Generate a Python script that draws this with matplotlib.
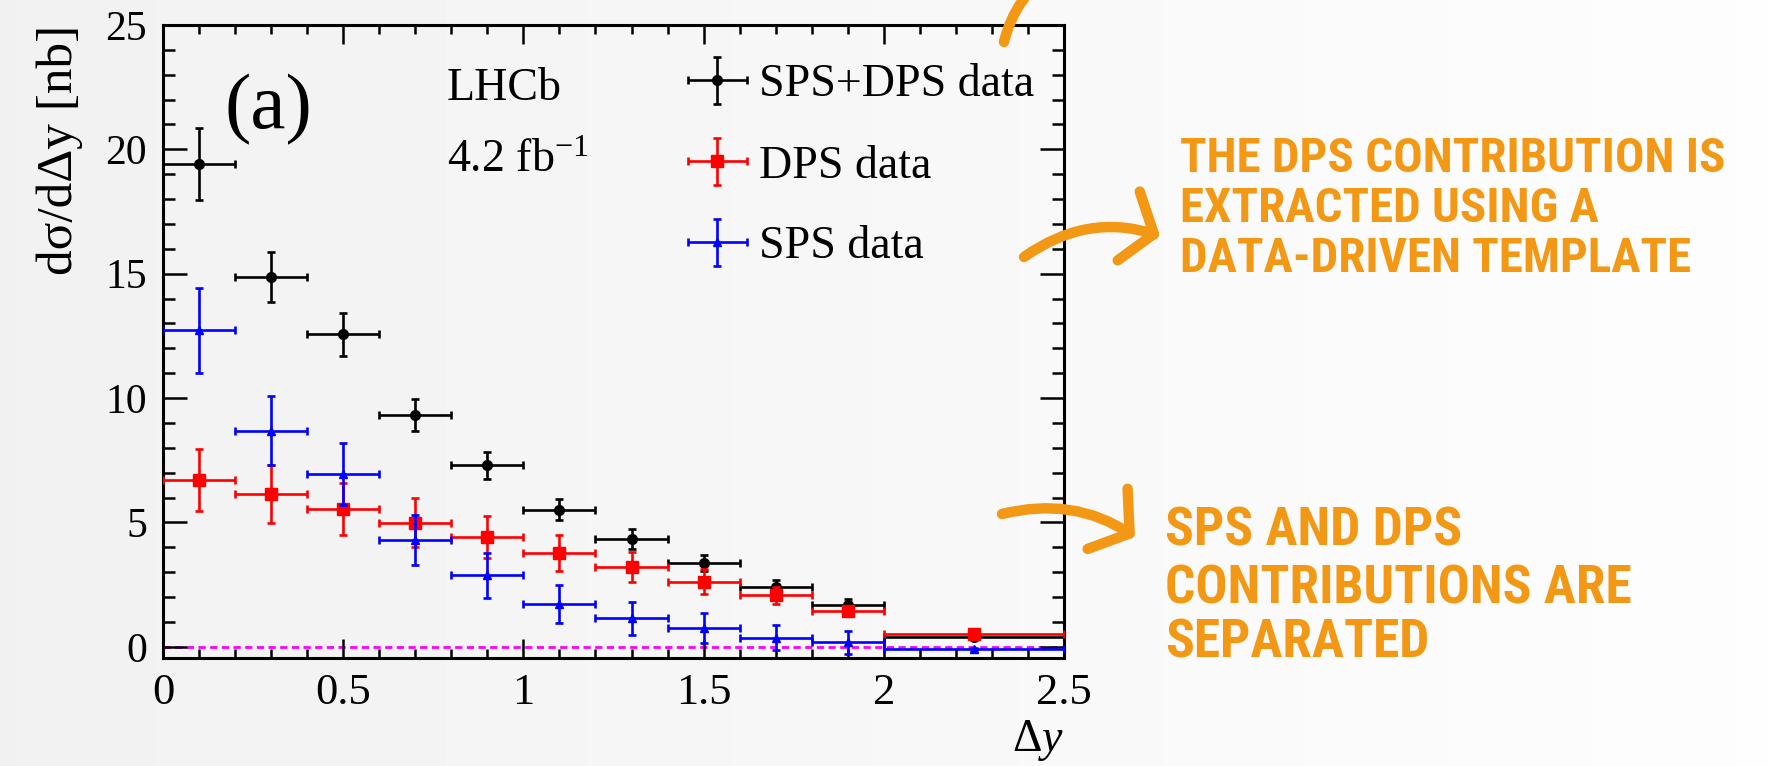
import matplotlib
matplotlib.use("Agg")
import matplotlib.pyplot as plt
import numpy as np
from matplotlib.patches import FancyArrowPatch, ArrowStyle
from matplotlib.legend_handler import HandlerErrorbar
from matplotlib.container import ErrorbarContainer
from matplotlib.ticker import MultipleLocator

# canvas in pixels
W, H = 1768, 766
DPI = 100

# bins in delta-y (centre and half width)
dy_centres = [0.1, 0.3, 0.5, 0.7, 0.9, 1.1, 1.3, 1.5, 1.7, 1.9, 2.25]
dy_halfwidth = [0.1, 0.1, 0.1, 0.1, 0.1, 0.1, 0.1, 0.1, 0.1, 0.1, 0.25]

# dsigma/d(delta y) in nb
sps_dps = [19.4, 14.87, 12.56, 9.32, 7.29, 5.51, 4.34, 3.37, 2.41, 1.67, 0.40]
sps_dps_err = [1.45, 1.0, 0.87, 0.63, 0.53, 0.43, 0.40, 0.33, 0.29, 0.27, 0.08]
dps = [6.71, 6.15, 5.55, 4.99, 4.41, 3.77, 3.21, 2.61, 2.07, 1.44, 0.52]
dps_err = [1.25, 1.16, 1.04, 0.98, 0.84, 0.73, 0.60, 0.50, 0.35, 0.20, 0.10]
sps = [12.72, 8.69, 6.95, 4.30, 2.87, 1.71, 1.14, 0.74, 0.36, 0.18, -0.10]
sps_err = [1.72, 1.38, 1.24, 1.0, 0.90, 0.76, 0.68, 0.60, 0.50, 0.45, 0.05]

series_labels = ["SPS+DPS data", "DPS data", "SPS data"]

x_ticks = [0, 0.5, 1, 1.5, 2, 2.5]
x_tick_labels = ["0", "0.5", "1", "1.5", "2", "2.5"]
y_ticks = [0, 5, 10, 15, 20, 25]
y_tick_labels = ["0", "5", "10", "15", "20", "25"]

note_top = ["THE DPS CONTRIBUTION IS", "EXTRACTED USING A", "DATA-DRIVEN TEMPLATE"]
note_bottom = ["SPS AND DPS", "CONTRIBUTIONS ARE", "SEPARATED"]

plt.rcParams["font.family"] = ["Liberation Serif", "DejaVu Serif"]
plt.rcParams["mathtext.fontset"] = "custom"
plt.rcParams["mathtext.rm"] = "Liberation Serif"
plt.rcParams["mathtext.it"] = "Liberation Serif:italic"
plt.rcParams["mathtext.bf"] = "Liberation Serif:bold"

note_color = "#f39814"
note_font = ["Roboto Condensed", "Roboto", "DejaVu Sans"]


def px(x, y):
    """pixel position (from top left) -> figure fraction"""
    return x / W, 1 - y / H


fig = plt.figure(figsize=(W / DPI, H / DPI), dpi=DPI)
fig.patch.set_facecolor("#f5f5f5")

# soft grey to white background
bg = fig.add_axes([0, 0, 1, 1], zorder=-10)
grad = np.tile(np.linspace(0.945, 0.993, 512), (2, 1))
bg.imshow(grad, cmap="gray", vmin=0, vmax=1, aspect="auto", extent=[0, 1, 0, 1])
bg.axis("off")

left, top, right, bottom = 163, 25, 1064, 658
ax = fig.add_axes([left / W, 1 - bottom / H, (right - left) / W, (bottom - top) / H])
ax.set_facecolor("none")

ax.axhline(0, color="#ff00ff", lw=2.0, ls=(0, (2.6, 1.6)), zorder=1)

bar_style = dict(elinewidth=1.9, capsize=3.2, capthick=1.9)
h_tot = ax.errorbar(dy_centres, sps_dps, xerr=dy_halfwidth, yerr=sps_dps_err,
                    fmt="o", color="black", ms=7, zorder=2, **bar_style)
h_dps = ax.errorbar(dy_centres, dps, xerr=dy_halfwidth, yerr=dps_err,
                    fmt="s", color="#ff0000", ms=8, zorder=3, **bar_style)
h_sps = ax.errorbar(dy_centres, sps, xerr=dy_halfwidth, yerr=sps_err,
                    fmt="^", color="#0000ff", ms=6, zorder=4, **bar_style)

ax.set_xlim(0, 2.5)
ax.set_ylim(-0.45, 25)
ax.set_xticks(x_ticks, x_tick_labels)
ax.set_yticks(y_ticks, y_tick_labels)
ax.xaxis.set_minor_locator(MultipleLocator(0.1))
ax.yaxis.set_minor_locator(MultipleLocator(1))
ax.tick_params(which="both", direction="in", top=True, right=True, width=1.8)
ax.tick_params(axis="x", which="major", length=13.5, labelsize=32, pad=10.5)
ax.tick_params(axis="x", which="minor", length=6.5)
ax.tick_params(axis="y", which="major", length=17.5, labelsize=30, pad=11.5)
ax.tick_params(axis="y", which="minor", length=8.6)
for sp in ax.spines.values():
    sp.set_linewidth(2.2)

# axis titles
fig.text(*px(60, 25), "dσ/dΔy [nb]", rotation=90, ha="center", va="top", fontsize=37)
fig.text(*px(1064, 751), r"$\Delta y$", ha="right", va="baseline", fontsize=33)

# labels inside the frame
fig.text(*px(225, 128), "(a)", ha="left", va="baseline", fontsize=57)
fig.text(*px(447, 100), "LHCb", ha="left", va="baseline", fontsize=33)
fig.text(*px(447, 172), r"4.2 fb$^{-1}$", ha="left", va="baseline", fontsize=33)

ax.legend([h_tot, h_dps, h_sps], series_labels,
          handler_map={ErrorbarContainer: HandlerErrorbar(xerr_size=0.64, yerr_size=0.52)},
          loc="upper left", bbox_to_anchor=((688 - left) / (right - left), (bottom - 64) / (bottom - top)),
          frameon=False, fontsize=33, borderpad=0, borderaxespad=0,
          handlelength=1.28, handletextpad=0.27, labelspacing=0.84)


# hand-written notes on the right
def note_block(lines, x, baselines, size, target_width):
    texts = [fig.text(*px(x, yb), s, ha="left", va="baseline", fontsize=size,
                      family=note_font, fontweight="bold", color=note_color)
             for s, yb in zip(lines, baselines)]
    fig.canvas.draw()
    widest = max(t.get_window_extent().width for t in texts)
    scale = target_width / widest if widest > 0 else 1.0
    scale = min(max(scale, 0.5), 1.07)
    for t in texts:
        t.set_fontsize(size * scale)


note_block(note_top, 1180, [172, 222, 272], 33, 560)
note_block(note_bottom, 1165, [546, 603, 658], 36, 492)


def sketch_arrow(start, end, rad, head=True):
    style = ArrowStyle("->", head_length=0.95, head_width=1.3) if head else ArrowStyle("-")
    arr = FancyArrowPatch(px(*start), px(*end), transform=fig.transFigure,
                          connectionstyle=f"arc3,rad={rad}", arrowstyle=style,
                          mutation_scale=20, lw=7.5, color=note_color,
                          capstyle="round", joinstyle="round", shrinkA=0, shrinkB=0)
    fig.add_artist(arr)


sketch_arrow((1024, 257), (1160, 236), -0.25)
sketch_arrow((1002, 514), (1135, 537), -0.22)
sketch_arrow((1004, 42), (1055, -30), -0.2, head=False)

fig.savefig("out.png", dpi=DPI)
